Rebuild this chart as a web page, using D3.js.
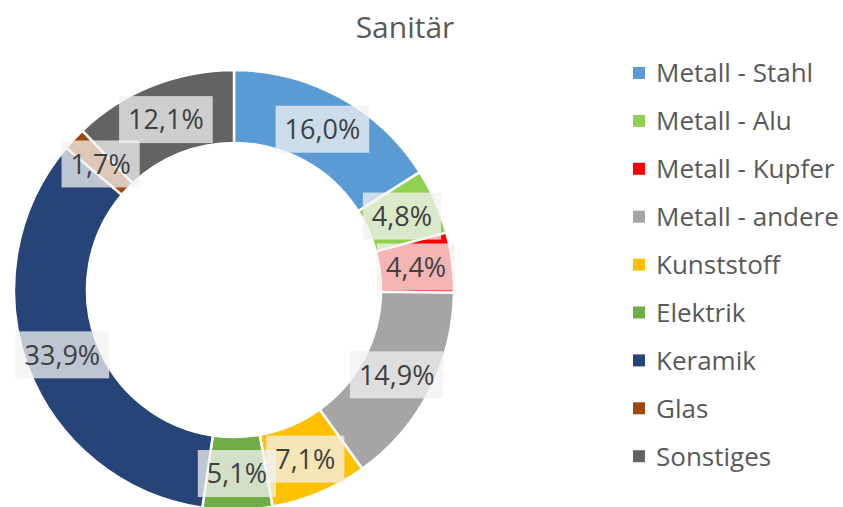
<!DOCTYPE html>
<html>
<head>
<meta charset="utf-8">
<script src="https://cdn.jsdelivr.net/npm/d3@7"></script>
<style>
	body { margin: 0; background: #fff; }
	svg { display: block; font-family: "Open Sans", sans-serif; }
</style>
</head>
<body>
<svg class="chart" width="843" height="507"></svg>
<script>
var title = "Sanitär";
var categories = ["Metall - Stahl", "Metall - Alu", "Metall - Kupfer", "Metall - andere",
	"Kunststoff", "Elektrik", "Keramik", "Glas", "Sonstiges"];
var values = [16.0, 4.8, 4.4, 14.9, 7.1, 5.1, 33.9, 1.7, 12.1];
var colors = ["#5B9BD5", "#92D050", "#FF0000", "#A5A5A5", "#FFC000",
	"#70AD47", "#264478", "#9E480E", "#636363"];

var svg = d3.select(".chart");
var cx = 234, cy = 290,
	r_outer = 220, r_inner = 147;

svg.append("text")
	.attr("x", 405)
	.attr("y", 38)
	.attr("text-anchor", "middle")
	.attr("font-size", 30)
	.attr("fill", "#595959")
	.text(title);

var pie = d3.pie().sort(null).value(function(d){ return d; });
var arcs = pie(values);

var arc = d3.arc()
	.innerRadius(r_inner)
	.outerRadius(r_outer);

var labelArc = d3.arc()
	.innerRadius((r_inner + r_outer)/2)
	.outerRadius((r_inner + r_outer)/2);

var g = svg.append("g")
	.attr("transform", "translate(" + cx + "," + cy + ")");

g.selectAll("path.slice")
	.data(arcs)
	.enter().append("path")
	.attr("class", "slice")
	.attr("d", arc)
	.attr("fill", function(d, i){ return colors[i]; })
	.attr("stroke", "#fff")
	.attr("stroke-width", 2.5);

var fmt = function(v){ return v.toFixed(1).replace(".", ",") + "%"; };

// each label: box + text, in order, so later ones sit on top
arcs.forEach(function(d, i) {
	var c = labelArc.centroid(d);
	var lg = g.append("g").attr("transform", "translate(" + c[0] + "," + c[1] + ")");
	var box = lg.append("rect");
	var t = lg.append("text")
		.attr("text-anchor", "middle")
		.attr("dy", "0.36em")
		.attr("font-size", 27)
		.attr("fill", "#404040")
		.text(fmt(values[i]));
	var w = t.node().getComputedTextLength() + 18;
	box.attr("x", -w/2)
		.attr("y", -23.5)
		.attr("width", w)
		.attr("height", 47)
		.attr("fill", "#F2F2F2")
		.attr("fill-opacity", 0.75);
});

// legend
var legend = svg.append("g").attr("transform", "translate(633,73)");
var items = legend.selectAll("g")
	.data(categories)
	.enter().append("g")
	.attr("transform", function(d, i){ return "translate(0," + (i*47.9) + ")"; });

items.append("rect")
	.attr("x", 0)
	.attr("y", -6)
	.attr("width", 12)
	.attr("height", 12)
	.attr("fill", function(d, i){ return colors[i]; });

items.append("text")
	.attr("x", 23)
	.attr("dy", "0.36em")
	.attr("font-size", 26)
	.attr("fill", "#595959")
	.text(function(d){ return d; });
</script>
</body>
</html>
